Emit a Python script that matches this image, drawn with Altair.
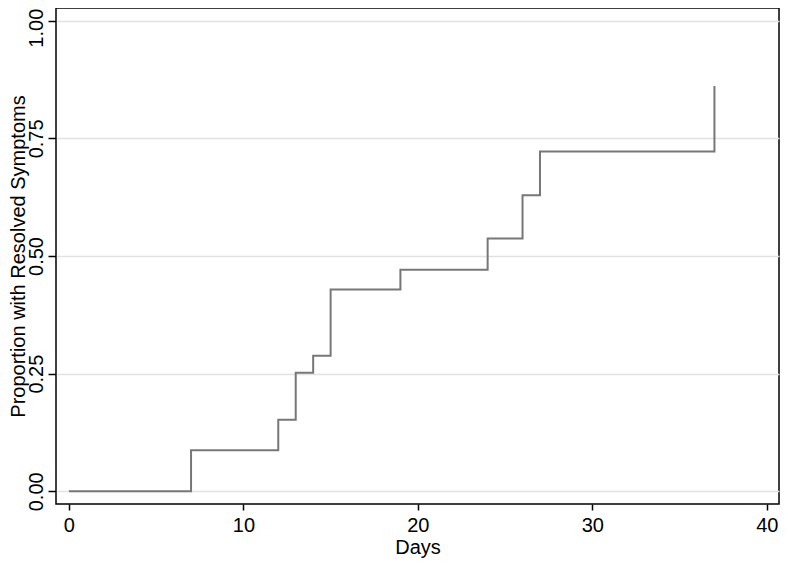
import altair as alt
import pandas as pd

days = [0, 7, 12, 13, 14, 15, 19, 24, 26, 27, 37]
proportion = [0.0, 0.087, 0.152, 0.252, 0.288, 0.429, 0.471, 0.537, 0.629, 0.722, 0.861]
x_ticks = [0, 10, 20, 30, 40]
y_ticks = [0.0, 0.25, 0.5, 0.75, 1.0]

df = pd.DataFrame({"Days": days, "Proportion": proportion})

FONT = "Liberation Sans"

chart = (
    alt.Chart(df)
    .mark_line(interpolate="step-after", color="#777777", strokeWidth=2)
    .encode(
        x=alt.X(
            "Days:Q",
            scale=alt.Scale(domain=[-0.74, 40.7], nice=False, zero=False),
            axis=alt.Axis(
                values=x_ticks,
                title="Days",
                grid=False,
                domain=False,
                tickSize=6,
                tickColor="black",
                tickWidth=1.5,
                labelFontSize=20,
                labelPadding=5,
                labelColor="black",
                titleFontSize=20,
                titleFontWeight="normal",
                titleColor="black",
                titlePadding=2,
                labelFont=FONT,
                titleFont=FONT,
            ),
        ),
        y=alt.Y(
            "Proportion:Q",
            scale=alt.Scale(domain=[-0.027, 1.027], nice=False, zero=False),
            axis=alt.Axis(
                values=y_ticks,
                format=".2f",
                title="Proportion with Resolved Symptoms",
                grid=True,
                gridColor="#e2e2e2",
                gridWidth=1.5,
                domain=False,
                tickSize=8,
                tickColor="black",
                tickWidth=1.5,
                labelAngle=270,
                labelAlign="center",
                labelBaseline="bottom",
                labelFontSize=20,
                labelPadding=2,
                labelOffset={"condition": {"test": "datum.value == 1", "value": 7}, "value": 0},
                labelColor="black",
                titleFontSize=20,
                titleFontWeight="normal",
                titleColor="black",
                titlePadding=-2,
                labelFont=FONT,
                titleFont=FONT,
            ),
        ),
    )
    .properties(
        width=723,
        height=496,
        autosize=alt.AutoSizeParams(type="none"),
        padding={"left": 48, "top": 0, "right": 1, "bottom": 54},
        background="white",
    )
    .configure_view(stroke="black", strokeWidth=1.5)
)

chart.save("out.html", embed_options={"renderer": "svg", "actions": False})
